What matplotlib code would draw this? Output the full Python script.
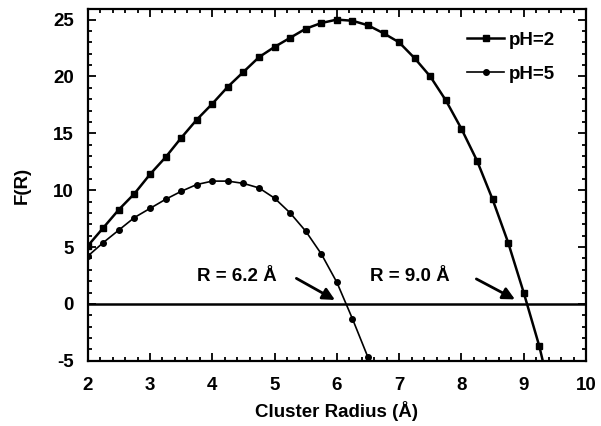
import numpy as np
import matplotlib.pyplot as plt
from matplotlib.ticker import MultipleLocator

plt.rcParams['font.family'] = ['Liberation Sans', 'DejaVu Sans']
plt.rcParams['font.weight'] = 'bold'
plt.rcParams['axes.labelweight'] = 'bold'
plt.rcParams['font.size'] = 13.5
plt.rcParams['axes.unicode_minus'] = False

## F(R) vs cluster radius
r_ph2 = [2.0, 2.25, 2.5, 2.75, 3.0, 3.25, 3.5, 3.75, 4.0, 4.25, 4.5, 4.75,
         5.0, 5.25, 5.5, 5.75, 6.0, 6.25, 6.5, 6.75, 7.0, 7.25, 7.5, 7.75,
         8.0, 8.25, 8.5, 8.75, 9.0, 9.25, 9.5]
f_ph2 = [5.1, 6.7, 8.3, 9.7, 11.4, 12.9, 14.6, 16.2, 17.6, 19.1, 20.4, 21.7,
         22.6, 23.4, 24.2, 24.7, 25.0, 24.9, 24.5, 23.8, 23.0, 21.6, 20.0, 17.9,
         15.4, 12.6, 9.2, 5.4, 1.0, -3.7, -9.5]

r_ph5 = [2.0, 2.25, 2.5, 2.75, 3.0, 3.25, 3.5, 3.75, 4.0, 4.25, 4.5, 4.75,
         5.0, 5.25, 5.5, 5.75, 6.0, 6.25, 6.5]
f_ph5 = [4.2, 5.4, 6.5, 7.6, 8.4, 9.2, 9.9, 10.5, 10.8, 10.8, 10.6, 10.2,
         9.3, 8.0, 6.4, 4.4, 1.9, -1.3, -4.7]

labels = ['pH=2', 'pH=5']
roots = [6.2, 9.0]

fig = plt.figure(figsize=(6.01, 4.26), dpi=100)
ax = fig.add_axes([0.146, 0.153, 0.829, 0.825])

ax.plot(r_ph2, f_ph2, color='black', lw=1.8, marker='s', ms=5, label=labels[0])
ax.plot(r_ph5, f_ph5, color='black', lw=1.2, marker='o', ms=4, label=labels[1])
ax.axhline(0, color='black', lw=1.8)

arrow = dict(arrowstyle='-|>', color='black', lw=2.0, mutation_scale=18,
             shrinkA=0, shrinkB=0)
ax.text(4.4, 2.4, 'R = %.1f Å' % roots[0], ha='center', va='center')
ax.annotate('', xy=(5.97, 0.35), xytext=(5.35, 2.25), arrowprops=arrow)
ax.text(7.17, 2.4, 'R = %.1f Å' % roots[1], ha='center', va='center')
ax.annotate('', xy=(8.86, 0.4), xytext=(8.24, 2.2), arrowprops=arrow)

ax.set_xlim(2, 10)
ax.set_ylim(-5, 25.9)
ax.xaxis.set_major_locator(MultipleLocator(1))
ax.xaxis.set_minor_locator(MultipleLocator(0.2))
ax.yaxis.set_major_locator(MultipleLocator(5))
ax.yaxis.set_minor_locator(MultipleLocator(1))
ax.tick_params(which='both', direction='in', top=True, right=True, width=1.3)
ax.tick_params(which='major', length=6)
ax.tick_params(which='minor', length=3)
ax.tick_params(axis='x', which='major', pad=12)
ax.tick_params(axis='y', which='major', pad=10)
for s in ax.spines.values():
    s.set_linewidth(1.6)

ax.set_xlabel('Cluster Radius (Å)', labelpad=5)
ax.set_ylabel('F(R)', labelpad=16)

ax.legend(loc='upper right', frameon=False, handlelength=2.0,
          handletextpad=0.25, labelspacing=0.9, bbox_to_anchor=(0.972, 0.985))

plt.savefig('out.png', dpi=100)
